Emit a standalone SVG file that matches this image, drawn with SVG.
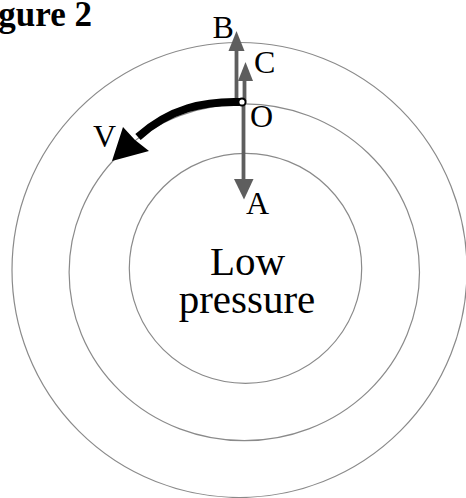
<svg xmlns="http://www.w3.org/2000/svg" width="466" height="498" viewBox="0 0 466 498">
  <style>
    .ring { fill: none; stroke: #8a8a8a; stroke-width: 1.2; }
    .vec { stroke: #5e5e5e; stroke-width: 3.8; fill: none; }
    .head { fill: #5e5e5e; stroke: none; }
    .lbl { font-family: "Liberation Serif", "Times New Roman", serif; font-size: 32px; fill: #000; }
    .big { font-family: "Liberation Serif", "Times New Roman", serif; font-size: 41px; fill: #000; text-anchor: middle; }
    .title { font-family: "Liberation Serif", "Times New Roman", serif; font-size: 35px; font-weight: bold; fill: #000; text-anchor: end; }
  </style>
  <rect width="466" height="498" fill="#ffffff"/>

  <text class="title" x="92" y="26">Figure 2</text>

  <g id="isobars">
    <circle id="outer-ring" class="ring" cx="239.5" cy="270" r="227.5"/>
    <ellipse id="middle-ring" class="ring" cx="244.3" cy="272.3" rx="175.2" ry="168.4"/>
    <ellipse id="inner-ring" class="ring" cx="245.5" cy="268.3" rx="116.2" ry="115"/>
  </g>

  <g id="low-pressure">
    <text class="big" x="247.5" y="275">Low</text>
    <text class="big" x="247" y="313">pressure</text>
  </g>

  <g id="connectors">
    <g id="arrow-B">
      <line class="vec" x1="236.5" y1="101" x2="236.5" y2="49"/>
      <polygon class="head" points="236.5,31 228.5,51 244.5,51"/>
    </g>
    <g id="arrow-C">
      <line class="vec" x1="244.5" y1="101" x2="244.5" y2="79"/>
      <polygon class="head" points="245.5,62 238,81 253,81"/>
    </g>
    <g id="arrow-A">
      <line class="vec" x1="243.5" y1="103" x2="243.5" y2="181"/>
      <polygon class="head" points="244,199.5 234,179 253.5,179"/>
    </g>
    <g id="arrow-V">
      <path d="M 240 102 C 205 101 170 108 138 137" fill="none" stroke="#000" stroke-width="8"/>
      <polygon points="112,161 123,127 135,140 149,151" fill="#000"/>
    </g>
  </g>

  <g id="point-O">
    <circle cx="242" cy="102" r="3.6" fill="#fff" stroke="#000" stroke-width="2"/>
    <text class="lbl" x="250" y="126.5">O</text>
  </g>
  <g id="label-B"><text class="lbl" x="212.5" y="38">B</text></g>
  <g id="label-C"><text class="lbl" x="254" y="73">C</text></g>
  <g id="label-V"><text class="lbl" x="93" y="146.5">V</text></g>
  <g id="label-A"><text class="lbl" x="246" y="214">A</text></g>
</svg>
